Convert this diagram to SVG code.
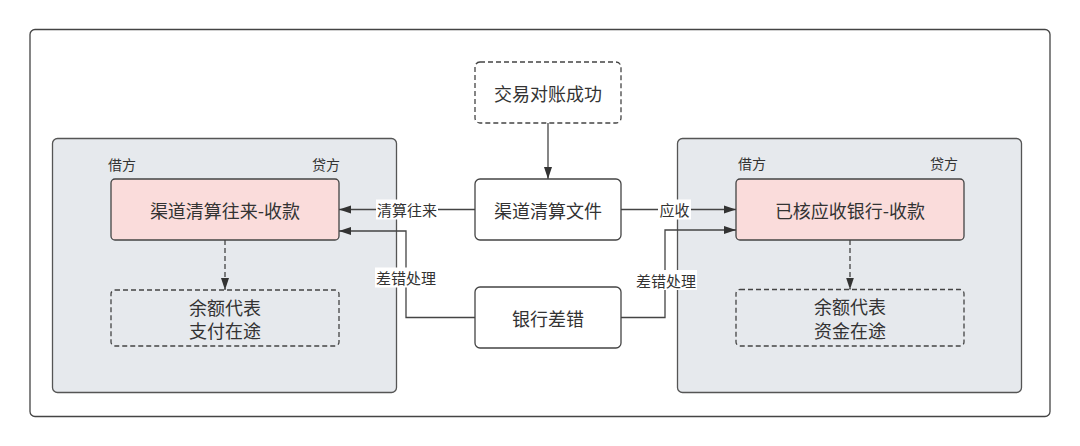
<svg xmlns="http://www.w3.org/2000/svg" width="1080" height="446" viewBox="0 0 1080 446">
<style>
text{font-family:"Noto Sans CJK SC","Noto Sans",sans-serif;fill:#333;}
.node{font-size:18px;text-anchor:middle;dominant-baseline:central;}
.side{font-size:14px;dominant-baseline:central;}
.lbl{font-size:15px;text-anchor:middle;dominant-baseline:central;}
.box{fill:#fff;stroke:#444;stroke-width:1.3;}
.pink{fill:#fadcdb;stroke:#444;stroke-width:1.3;}
.dash{fill:none;stroke:#444;stroke-width:1.3;stroke-dasharray:5 3;}
.panel{fill:#e6e9ed;stroke:#555;stroke-width:1.3;}
.line{fill:none;stroke:#444;stroke-width:1.3;}
.dline{fill:none;stroke:#444;stroke-width:1.3;stroke-dasharray:5 3;}
.lbg{fill:#fff;}
</style>
<defs>
<marker id="arr" viewBox="0 0 12 10" refX="12" refY="5" markerWidth="12" markerHeight="10" markerUnits="userSpaceOnUse" orient="auto">
<path d="M0,1 L12,5 L0,9 Z" fill="#333"/>
</marker>
</defs>
<rect x="30" y="29.5" width="1020" height="387" rx="5" fill="#fff" stroke="#444" stroke-width="1.3"/>
<g id="panel-left">
<rect class="panel" x="52.5" y="138.5" width="344" height="254" rx="5"/>
</g>
<g id="panel-right">
<rect class="panel" x="677.5" y="138.5" width="344" height="254" rx="5"/>
</g>
<g id="connectors">
<path class="line" d="M548,123 V179" marker-end="url(#arr)"/>
<path class="line" d="M475,209.5 H339" marker-end="url(#arr)"/>
<path class="line" d="M621,209.5 H736" marker-end="url(#arr)"/>
<path class="line" d="M475,317.5 H406 V231 H339" marker-end="url(#arr)"/>
<path class="line" d="M621,317.5 H665 V230 H736" marker-end="url(#arr)"/>
<path class="dline" d="M225,240 V290" marker-end="url(#arr)"/>
<path class="dline" d="M850,240 V289.5" marker-end="url(#arr)"/>
<rect class="lbg" x="376" y="199.5" width="62" height="20"/>
<text class="lbl" x="407" y="209.5">清算往来</text>
<rect class="lbg" x="658" y="199.5" width="33" height="20"/>
<text class="lbl" x="674.5" y="209.5">应收</text>
<rect class="lbg" x="375" y="267.5" width="62" height="20"/>
<text class="lbl" x="406" y="277.5">差错处理</text>
<rect class="lbg" x="635" y="270" width="62" height="20"/>
<text class="lbl" x="666" y="280">差错处理</text>
</g>
<g id="node-jiaoyi">
<rect class="dash" x="475" y="62" width="146" height="61" rx="5"/>
<text class="node" x="548" y="92.5">交易对账成功</text>
</g>
<g id="node-qudaowenjian">
<rect class="box" x="475" y="179" width="146" height="61" rx="5"/>
<text class="node" x="548" y="209.5">渠道清算文件</text>
</g>
<g id="node-yinhangchacuo">
<rect class="box" x="475" y="287" width="146" height="61" rx="5"/>
<text class="node" x="548" y="317.5">银行差错</text>
</g>
<g id="node-qudaowanglai">
<text class="side" x="108" y="164">借方</text>
<text class="side" x="312" y="164">贷方</text>
<rect class="pink" x="111" y="179" width="228" height="61" rx="4"/>
<text class="node" x="225" y="209.5">渠道清算往来-收款</text>
</g>
<g id="node-zhifuzaitu">
<rect class="dash" x="111" y="290" width="228" height="56" rx="4"/>
<text class="node" x="225" y="306.5">余额代表</text>
<text class="node" x="225" y="330">支付在途</text>
</g>
<g id="node-yihe">
<text class="side" x="738" y="163">借方</text>
<text class="side" x="930" y="163">贷方</text>
<rect class="pink" x="736" y="179" width="228" height="61" rx="4"/>
<text class="node" x="850" y="209.5">已核应收银行-收款</text>
</g>
<g id="node-zijinzaitu">
<rect class="dash" x="736" y="289.5" width="228" height="56.5" rx="4"/>
<text class="node" x="850" y="306">余额代表</text>
<text class="node" x="850" y="329.5">资金在途</text>
</g>
</svg>
